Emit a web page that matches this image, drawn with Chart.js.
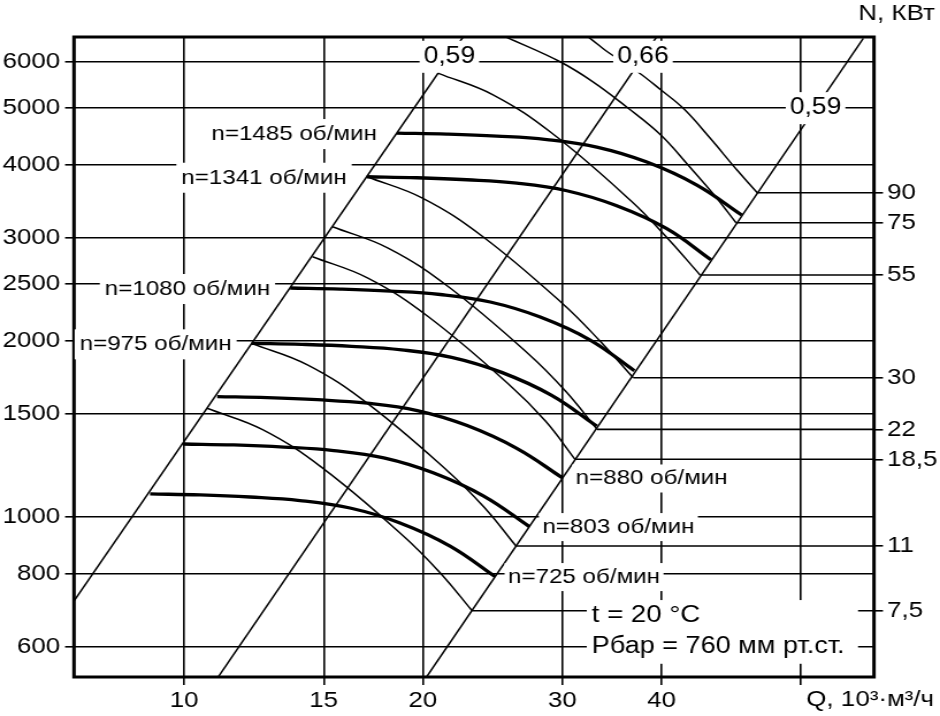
<!DOCTYPE html>
<html>
<head>
<meta charset="utf-8">
<title>Аэродинамическая характеристика вентилятора</title>
<script src="https://cdn.jsdelivr.net/npm/chart.js@4.4.1/dist/chart.umd.min.js"></script>
<style>
  html, body { margin: 0; padding: 0; background: #fff; overflow: hidden; }
  /* исходный рисунок растянут по горизонтали */
  #wrap { width: 817px; height: 716px; transform: scale(1.150551, 1); transform-origin: 0 0; }
</style>
</head>
<body>
<div id="wrap"><canvas id="fanChart" width="817" height="716"></canvas></div>
<script>
// Диапазоны осей (Q, 10³·м³/ч и P, Па)
const qMin = 7.265, qMax = 74.15;
const pMin = 532.7, pMax = 6616;
const qTicks = [10, 15, 20, 30, 40, 60];
const pTicks = [600, 800, 1000, 1500, 2000, 2500, 3000, 4000, 5000, 6000];

// Напорные характеристики при разной частоте вращения
const rpmLabels = ["n=1485 об/мин", "n=1341 об/мин", "n=1080 об/мин", "n=975 об/мин",
                   "n=880 об/мин", "n=803 об/мин", "n=725 об/мин"];
const q1485 = [18.55, 21.45, 24.80, 28.67, 33.15, 38.34, 44.33, 50.50];
const p1485 = [4533, 4515, 4480, 4419, 4290, 4044, 3694, 3283];
const q1341 = [17.00, 19.66, 22.73, 26.28, 30.38, 35.13, 40.62, 46.19];
const p1341 = [3817, 3802, 3772, 3721, 3612, 3405, 3111, 2752];
const q1080 = [13.61, 15.74, 18.20, 21.04, 24.33, 28.13, 32.52, 36.97];
const p1080 = [2463, 2453, 2434, 2401, 2331, 2197, 2007, 1779];
const q975 = [12.17, 14.07, 16.27, 18.81, 21.75, 25.15, 29.08, 33.15];
const p975 = [1981, 1973, 1958, 1931, 1875, 1767, 1614, 1430];
const q880 = [11.01, 12.73, 14.72, 17.02, 19.68, 22.75, 26.31, 30.02];
const p880 = [1606, 1600, 1587, 1565, 1520, 1433, 1309, 1166];
const q803 = [9.99, 11.55, 13.36, 15.44, 17.86, 20.65, 23.87, 27.26];
const p803 = [1333, 1328, 1317, 1299, 1262, 1189, 1086, 963];
const q725 = [9.06, 10.48, 12.11, 14.00, 16.19, 18.72, 21.65, 24.67];
const p725 = [1095, 1091, 1082, 1067, 1036, 977, 892, 791];
const rpmQ = [q1485, q1341, q1080, q975, q880, q803, q725];
const rpmP = [p1485, p1341, p1080, p975, p880, p803, p725];

// Линии мощности двигателя, кВт
const powerLabels = ["90", "75", "55", "30", "22", "18,5", "11", "7,5"];
const q90 = [31.12, 32.51, 34.15, 37.36, 39.95, 42.71, 46.06, 49.81, 52.84];
const p90 = [6853, 6582, 6248, 5764, 5369, 4983, 4445, 3919, 3584];
const q75 = [24.32, 25.52, 29.80, 32.82, 36.16, 39.92, 43.21, 46.73, 49.67];
const p75 = [6800, 6607, 6002, 5541, 5022, 4498, 3997, 3538, 3185];
const q55 = [20.93, 24.56, 29.14, 36.63, 40.71, 44.74];
const p55 = [5734, 5265, 4524, 3469, 2996, 2593];
const q30 = [17.01, 20.01, 23.82, 30.05, 33.46, 36.86];
const p30 = [3817, 3506, 3014, 2313, 1999, 1730];
const q22 = [15.39, 18.11, 21.55, 27.19, 30.27, 33.18];
const p22 = [3135, 2880, 2475, 1900, 1642, 1412];
const q18_5 = [14.52, 17.08, 20.33, 25.65, 28.56, 31.12];
const p18_5 = [2786, 2559, 2200, 1688, 1459, 1255];
const q11 = [12.16, 14.31, 17.03, 21.48, 23.92, 26.22];
const p11 = [1981, 1820, 1564, 1200, 1038, 892];
const q7_5 = [10.69, 12.58, 14.97, 18.89, 21.03, 23.08];
const p7_5 = [1534, 1409, 1211, 929, 803, 691.5];
const powerQ = [q90, q75, q55, q30, q22, q18_5, q11, q7_5];
const powerP = [p90, p75, p55, p30, p22, p18_5, p11, p7_5];
const powerLevels = powerP.map((p) => p[p.length - 1]);

// Лучи постоянного КПД
const effLabels = ["0,59", "0,66", "0,59"];
const effQ = [[7.27, 22.48], [11.05, 39.43], [20.22, 71.88]];
const effP = [[719.4, 6616], [533.4, 6616], [532.7, 6582]];
const effLabelP = [6120, 6120, 5000];

const FONT = "'Liberation Sans', Arial, Helvetica, sans-serif";
const THIN = 1.5, GRID = 1.6, THICK = 3.3;

const pts = (qs, ps) => qs.map((q, i) => ({ x: q, y: ps[i] }));

const datasets = [];
effQ.forEach((qs, i) => {
  datasets.push({ data: pts(qs, effP[i]), borderWidth: THIN });
});
powerQ.forEach((qs, i) => {
  const k = qs.length - 1;
  datasets.push({ data: pts(qs, powerP[i]), borderWidth: THIN, tension: 0.4 });
  // горизонталь до правой шкалы мощности
  datasets.push({ data: [{ x: qs[k], y: powerP[i][k] }, { x: qMax, y: powerP[i][k] }], borderWidth: GRID });
});
rpmQ.forEach((qs, i) => {
  datasets.push({ data: pts(qs, rpmP[i]), borderWidth: THICK, tension: 0.4 });
});
datasets.forEach((d) => {
  d.borderColor = "#000";
  d.pointRadius = 0;
  d.fill = false;
});

// точка на луче КПД с заданным давлением (лог-лог)
function qOnRay(qs, ps, p) {
  const t = (Math.log10(p) - Math.log10(ps[0])) / (Math.log10(ps[1]) - Math.log10(ps[0]));
  return Math.pow(10, Math.log10(qs[0]) + t * (Math.log10(qs[1]) - Math.log10(qs[0])));
}

function label(ctx, text, x, y, align, size, padX, halfH) {
  ctx.font = size + "px " + FONT;
  const w = ctx.measureText(text).width;
  const left = align === "right" ? x - w : align === "center" ? x - w / 2 : x;
  ctx.fillStyle = "#fff";
  ctx.fillRect(left - padX, y - halfH, w + 2 * padX, halfH * 2);
  ctx.fillStyle = "#000";
  ctx.textAlign = "left";
  ctx.textBaseline = "middle";
  ctx.fillText(text, left, y);
}

const annotate = {
  id: "annotate",
  afterDatasetsDraw(chart) {
    const { ctx, chartArea: a } = chart;
    const sx = chart.scales.x, sy = chart.scales.y;
    ctx.save();

    // рамка поля графика
    ctx.strokeStyle = "#000";
    ctx.lineWidth = 3;
    ctx.strokeRect(a.left, a.top, a.right - a.left, a.bottom - a.top);

    // подписи КПД
    effLabels.forEach((t, i) => {
      const q = qOnRay(effQ[i], effP[i], effLabelP[i]);
      label(ctx, t, sx.getPixelForValue(q), sy.getPixelForValue(effLabelP[i]), "center", 23, 3.5, 16);
    });

    // подписи частоты вращения
    rpmLabels.forEach((t, i) => {
      const qs = rpmQ[i], ps = rpmP[i];
      if (i < 4) {
        label(ctx, t, sx.getPixelForValue(qs[0]) - 17.4, sy.getPixelForValue(ps[0]) + 1, "right", 21, 4.3, 15);
      } else {
        const k = qs.length - 1;
        label(ctx, t, sx.getPixelForValue(qs[k]) + 11.3, sy.getPixelForValue(ps[k]) + 0.5, "left", 21, 3, 14);
      }
    });

    // условия испытаний
    const tx = a.left + 450;
    const yP = sy.getPixelForValue(600);
    const yT = yP - 31.7;
    ctx.fillStyle = "#fff";
    ctx.fillRect(tx - 4.3, yT - 15, a.right - 13.9 - (tx - 4.3), yP + 17 - (yT - 15));
    ctx.fillStyle = "#000";
    ctx.textAlign = "left";
    ctx.textBaseline = "middle";
    ctx.font = "24px " + FONT;
    ctx.fillText("t = 20 °C", tx, yT);
    ctx.font = "23.5px " + FONT;
    ctx.fillText("Рбар = 760 мм рт.ст.", tx, yP);
    ctx.restore();
  },
  afterDraw(chart) {
    const { ctx, chartArea: a } = chart;
    ctx.save();
    ctx.fillStyle = "#000";
    ctx.textAlign = "left";
    ctx.textBaseline = "middle";
    ctx.font = "22.5px " + FONT;
    ctx.fillText("N, КВт", a.right - 13.6, 13.3);
    ctx.fillText("Q, 10³·м³/ч", chart.scales.x.getPixelForValue(60) + 4.6, a.bottom + 23);
    ctx.restore();
  },
};

const tickFont = { family: FONT, size: 22.5 };
const grid = { color: "#000", tickColor: "#000", lineWidth: GRID };

new Chart(document.getElementById("fanChart"), {
  type: "line",
  data: { datasets },
  plugins: [annotate],
  options: {
    responsive: false,
    animation: false,
    events: [],
    layout: { padding: { top: 37, left: 0, right: 0, bottom: 0 } },
    plugins: { legend: { display: false }, tooltip: { enabled: false } },
    scales: {
      x: {
        type: "logarithmic",
        min: qMin,
        max: qMax,
        afterBuildTicks: (s) => { s.ticks = qTicks.map((v) => ({ value: v })); },
        afterFit: (s) => { s.height = 39; },
        ticks: {
          autoSkip: false, maxRotation: 0, minRotation: 0, padding: 2,
          color: "#000", font: tickFont,
          callback: (v) => (v === 60 ? "" : String(v)),
        },
        grid: { ...grid, tickLength: 8 },
        border: { display: false },
      },
      y: {
        type: "logarithmic",
        position: "left",
        min: pMin,
        max: pMax,
        afterBuildTicks: (s) => { s.ticks = pTicks.map((v) => ({ value: v })); },
        afterFit: (s) => { s.width = 64.32; },
        ticks: { autoSkip: false, padding: 4.3, color: "#000", font: tickFont, callback: (v) => String(v) },
        grid: { ...grid, tickLength: 7.8 },
        border: { display: false },
      },
      y2: {
        type: "logarithmic",
        position: "right",
        min: pMin,
        max: pMax,
        afterBuildTicks: (s) => { s.ticks = powerLevels.map((v) => ({ value: v })); },
        afterFit: (s) => { s.width = 57.36; },
        ticks: {
          autoSkip: false, padding: 3.5, color: "#000", font: tickFont,
          callback: (v, i) => powerLabels[i],
        },
        grid: { ...grid, tickLength: 7.8, drawOnChartArea: false },
        border: { display: false },
      },
    },
  },
});
</script>
</body>
</html>
